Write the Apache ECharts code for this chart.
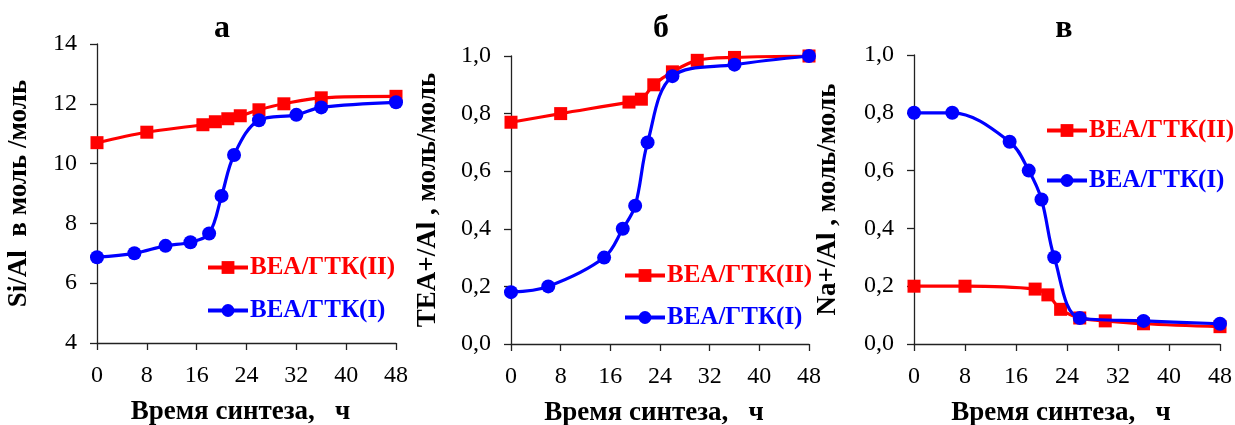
<!DOCTYPE html>
<html><head><meta charset="utf-8">
<script src="https://cdn.jsdelivr.net/npm/echarts@6/dist/echarts.min.js"></script>
<style>html,body{margin:0;padding:0;background:#fff}#c{width:1235px;height:425px}</style>
</head><body><div id="c"></div>
<script>
// Panel а: Si/Al
const tA_II = [0, 8, 17, 19, 21, 23, 26, 30, 36, 48];
const vA_II = [10.7, 11.05, 11.3, 11.4, 11.5, 11.6, 11.8, 12.0, 12.2, 12.25];
const tA_I  = [0, 6, 11, 15, 18, 20, 22, 26, 32, 36, 48];
const vA_I  = [6.87, 7.0, 7.25, 7.37, 7.66, 8.92, 10.29, 11.45, 11.63, 11.88, 12.05];
// Panel б: TEA+/Al
const tB_II = [0, 8, 19, 21, 23, 26, 30, 36, 48];
const vB_II = [0.77, 0.80, 0.84, 0.85, 0.90, 0.945, 0.985, 0.995, 1.0];
const tB_I  = [0, 6, 15, 18, 20, 22, 26, 36, 48];
const vB_I  = [0.18, 0.20, 0.30, 0.40, 0.48, 0.70, 0.93, 0.97, 1.0];
// Panel в: Na+/Al
const tC_II = [0, 8, 19, 21, 23, 26, 30, 36, 48];
const vC_II = [0.20, 0.20, 0.19, 0.17, 0.12, 0.09, 0.08, 0.07, 0.06];
const tC_I  = [0, 6, 15, 18, 20, 22, 26, 36, 48];
const vC_I  = [0.80, 0.80, 0.70, 0.60, 0.50, 0.30, 0.09, 0.08, 0.07];

const panelTitles = ['а', 'б', 'в'];
const yNames = ['Si/Al  в моль /моль', 'TEA+/Al , моль/моль', 'Na+/Al , моль/моль'];
const xName = 'Время синтеза,   ч';
const nameII = 'BEA/ГТК(II)';
const nameI = 'BEA/ГТК(I)';

const zip = (t, v) => t.map((x, i) => [x, v[i]]);
const SERIF = 'Liberation Serif, Times New Roman, serif';
const RED = '#ff0000', BLUE = '#0000ff';

const grids = [
  {left: 97, top: 44, width: 299, height: 299, outerBoundsMode: 'none', containLabel: false},
  {left: 511, top: 56, width: 298, height: 288, outerBoundsMode: 'none', containLabel: false},
  {left: 914, top: 55, width: 306, height: 289, outerBoundsMode: 'none', containLabel: false}
];
const yRanges = [[4, 14, 2], [0, 1, 0.2], [0, 1, 0.2]];
const yGaps = [64, 69, 72];
const legendPos = [
  {left: 201, top: 250, gap: 18},
  {left: 618, top: 258, gap: 17},
  {left: 1040, top: 113, gap: 25}
];

const axisLine = {show: true, lineStyle: {color: '#222', width: 1.3}};
const axisTick = {show: true, inside: false, length: 7, lineStyle: {color: '#222', width: 1.3}};

const xAxes = grids.map((g, i) => ({
  type: 'value', gridIndex: i, min: 0, max: 48, interval: 8,
  axisLine, axisTick, splitLine: {show: false},
  axisLabel: {color: '#000', fontFamily: SERIF, fontSize: 24, margin: 21},
  name: xName, nameLocation: 'middle', nameGap: 56,
  nameTextStyle: {color: '#000', fontFamily: SERIF, fontSize: 27, fontWeight: 'bold', padding: [0, 12, 0, 0]}
}));
const yAxes = grids.map((g, i) => ({
  type: 'value', gridIndex: i, min: yRanges[i][0], max: yRanges[i][1], interval: yRanges[i][2],
  axisLine, axisTick, splitLine: {show: false},
  axisLabel: {color: '#000', fontFamily: SERIF, fontSize: 24, margin: 20,
    formatter: v => i === 0 ? String(v) : v.toFixed(1).replace('.', ',')},
  name: yNames[i], nameLocation: 'middle', nameGap: yGaps[i], nameRotate: 90,
  nameTextStyle: {color: '#000', fontFamily: SERIF, fontSize: 27, fontWeight: 'bold'}
}));

const data = [[tA_II, vA_II, tA_I, vA_I], [tB_II, vB_II, tB_I, vB_I], [tC_II, vC_II, tC_I, vC_I]];
const series = [];
data.forEach((d, i) => {
  series.push({
    name: nameII, type: 'line', xAxisIndex: i, yAxisIndex: i, data: zip(d[0], d[1]),
    smooth: 0.35, symbol: 'rect', symbolSize: 13, color: RED,
    lineStyle: {width: 3.2, color: RED}, itemStyle: {color: RED}, z: 2
  });
  series.push({
    name: nameI, type: 'line', xAxisIndex: i, yAxisIndex: i, data: zip(d[2], d[3]),
    smooth: 0.35, symbol: 'circle', symbolSize: 14, color: BLUE,
    lineStyle: {width: 3.2, color: BLUE}, itemStyle: {color: BLUE}, z: 3
  });
});

const legends = legendPos.map(p => ({
  left: p.left, top: p.top, orient: 'vertical', itemGap: p.gap, itemWidth: 40, itemHeight: 16,
  selectedMode: false,
  lineStyle: {width: 4},
  textStyle: {fontFamily: SERIF, fontSize: 25, fontWeight: 'bold', padding: [0, 0, 0, -3]},
  data: [
    {name: nameII, textStyle: {color: RED}},
    {name: nameI, textStyle: {color: BLUE}}
  ]
}));

const titles = [
  {text: panelTitles[0], left: 217, top: 8},
  {text: panelTitles[1], left: 656, top: 8},
  {text: panelTitles[2], left: 1059, top: 8}
].map(t => ({text: t.text, left: t.left, top: t.top, textAlign: 'center',
  textStyle: {fontFamily: SERIF, fontSize: 32, fontWeight: 'bold', color: '#000'}}));

const chart = echarts.init(document.getElementById('c'), null, {renderer: 'canvas'});
chart.setOption({
  animation: false, backgroundColor: '#fff',
  title: titles, legend: legends, grid: grids, xAxis: xAxes, yAxis: yAxes, series
});
</script></body></html>
